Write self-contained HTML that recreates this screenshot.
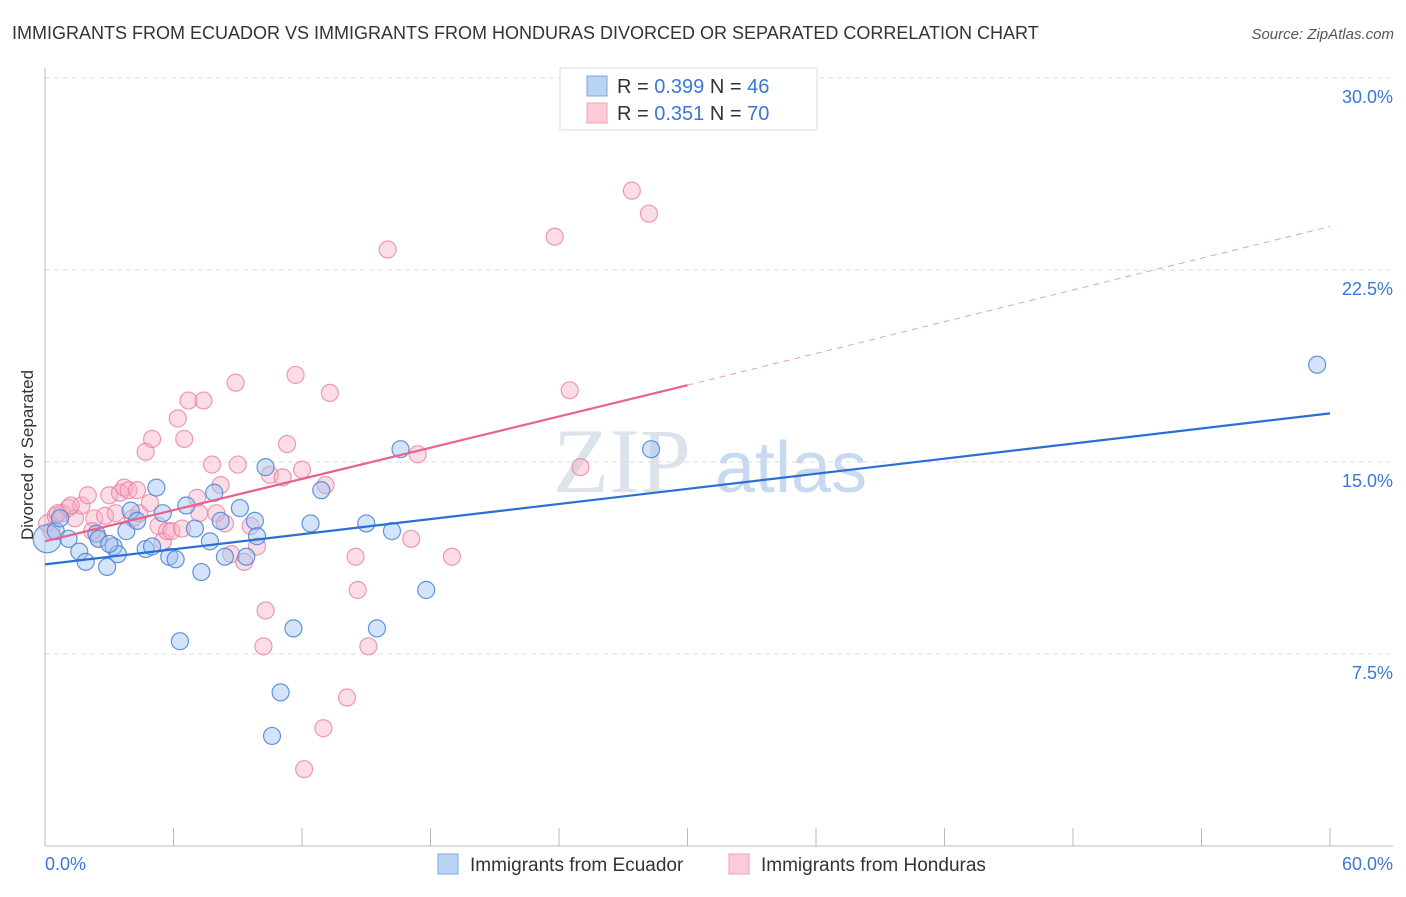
<!DOCTYPE html>
<html><head><meta charset="utf-8"><style>
body{margin:0;background:#fff;font-family:"Liberation Sans",sans-serif;}
</style></head><body>
<svg id="chart" width="1406" height="892" xmlns="http://www.w3.org/2000/svg" font-family="Liberation Sans, sans-serif">
<text x="12" y="39" font-size="18" fill="#333">IMMIGRANTS FROM ECUADOR VS IMMIGRANTS FROM HONDURAS DIVORCED OR SEPARATED CORRELATION CHART</text>
<text x="1394" y="39" font-size="15" fill="#555" font-style="italic" text-anchor="end">Source: ZipAtlas.com</text>
<text x="553" y="492" font-size="92" fill="#dde3ea" font-family="Liberation Serif, serif">ZIP</text>
<text x="715" y="492" font-size="72" fill="#c8daf0">atlas</text>
<g id="grid"></g><g id="axes"></g><g id="pts"></g><g id="lines"></g>
<text transform="translate(33,455) rotate(-90)" font-size="17" fill="#333" text-anchor="middle">Divorced or Separated</text>
<g>
<rect x="560" y="68" width="257" height="62" fill="#fff" stroke="#ddd"/>
<rect x="587" y="76" width="20" height="20" fill="#b9d3f5" stroke="#7aa6e0"/>
<rect x="587" y="103" width="20" height="20" fill="#fbcbd8" stroke="#f0a0b8"/>
<text x="617" y="93" font-size="20" fill="#333">R = <tspan fill="#3a78d4">0.399</tspan>   N = <tspan fill="#3a78d4">46</tspan></text>
<text x="617" y="120" font-size="20" fill="#333">R =  <tspan fill="#3a78d4">0.351</tspan>   N = <tspan fill="#3a78d4">70</tspan></text>
</g>
<g>
<rect x="438" y="854" width="20" height="20" fill="#b9d3f5" stroke="#7aa6e0"/>
<text x="470" y="871" font-size="19" fill="#333">Immigrants from Ecuador</text>
<rect x="729" y="854" width="20" height="20" fill="#fbcbd8" stroke="#f0a0b8"/>
<text x="761" y="871" font-size="19" fill="#333">Immigrants from Honduras</text>
</g>
</svg>
<script>
const yTicks=[7.5,15,22.5,30];
const yTickLabels=["7.5%","15.0%","22.5%","30.0%"];
const xTickLabels=["0.0%","60.0%"];
const ecuadorX=[0.1,0.5,1.1,1.6,1.9,2.4,2.5,2.9,3.2,3.4,3.8,4.0,4.3,4.7,5.0,5.2,5.5,5.8,6.1,6.3,6.6,7.0,7.3,7.7,7.9,8.2,8.4,9.1,9.4,9.8,9.9,10.3,11.0,10.6,11.6,12.4,12.9,15.0,15.5,16.2,16.6,17.8,28.3,59.4,0.7,3.0];
const ecuadorY=[12.0,12.3,12.0,11.5,11.1,12.2,12.0,10.9,11.7,11.4,12.3,13.1,12.7,11.6,11.7,14.0,13.0,11.3,11.2,8.0,13.3,12.4,10.7,11.9,13.8,12.7,11.3,13.2,11.3,12.7,12.1,14.8,6.0,4.3,8.5,12.6,13.9,12.6,8.5,12.3,15.5,10.0,15.5,18.8,12.8,11.8];
const hondurasX=[0.1,0.3,0.5,0.8,1.1,1.4,1.7,2.0,2.3,2.5,2.8,3.0,3.3,3.5,3.7,3.9,4.1,4.3,4.4,4.7,5.0,5.3,5.5,5.7,5.9,6.2,6.4,6.5,6.7,7.1,7.2,7.4,7.8,8.0,8.2,8.4,8.7,8.9,9.0,9.3,9.6,9.9,10.2,10.3,10.5,11.1,11.3,11.7,12.0,12.1,13.0,13.1,13.3,14.1,14.5,14.6,15.1,16.0,17.1,17.4,19.0,23.8,24.5,25.0,27.4,28.2,0.6,1.2,2.2,4.9];
const hondurasY=[12.6,12.3,12.9,13.0,13.2,12.8,13.3,13.7,12.8,12.0,12.9,13.7,13.0,13.8,14.0,13.9,12.8,13.9,13.0,15.4,15.9,12.5,11.9,12.3,12.3,16.7,12.4,15.9,17.4,13.6,13.0,17.4,14.9,13.0,14.1,12.6,11.4,18.1,14.9,11.1,12.5,11.7,7.8,9.2,14.5,14.4,15.7,18.4,14.7,3.0,4.6,14.1,17.7,5.8,11.3,10.0,7.8,23.3,12.0,15.3,11.3,23.8,17.8,14.8,25.6,24.7,13.0,13.3,12.3,13.4];
const ecuadorLine=[0,11.0,60,16.9];
const hondurasLine=[0,11.9,30,18.0,60,24.2];
const ns="http://www.w3.org/2000/svg";
const X=v=>45+v/60*1285, Y=v=>846-v/7.5*192;
function mk(t,a,p){const e=document.createElementNS(ns,t);for(const k in a)e.setAttribute(k,a[k]);document.getElementById(p).appendChild(e);return e;}
yTicks.forEach((t,i)=>{
 const g=mk('line',{x1:45,x2:1393,y1:Y(t),y2:Y(t),stroke:'#ddd','stroke-dasharray':'5,4'},'grid');
 
 
 const l=mk('text',{x:1393,y:Y(t)+25,'font-size':18,fill:'#3a78d4','text-anchor':'end'},'axes');
 l.textContent=yTickLabels[i];
 
 
});
let ax=mk('line',{x1:45,x2:45,y1:68,y2:846,stroke:'#bbb'},'axes');


ax=mk('line',{x1:45,x2:1393,y1:846,y2:846,stroke:'#bbb'},'axes');


for(let i=0;i<=10;i++){const xx=X(i*6);const t=mk('line',{x1:xx,x2:xx,y1:828,y2:846,stroke:'#bbb'},'axes');
 
 }
[[0,'start',45],[1,'end',1393]].forEach(([i,a,x])=>{const t=mk('text',{x:x,y:870,'font-size':18,fill:'#3a78d4','text-anchor':a},'axes');t.textContent=xTickLabels[i];
 
 });
hondurasX.forEach((v,i)=>{const c=mk('circle',{cx:X(v),cy:Y(hondurasY[i]),r:8.5,fill:'rgba(247,170,195,0.4)',stroke:'rgba(232,130,160,0.8)','stroke-width':1.2},'pts');
 
 });
ecuadorX.forEach((v,i)=>{const c=mk('circle',{cx:X(v),cy:Y(ecuadorY[i]),r:i==0?14:8.5,fill:'rgba(160,195,240,0.45)',stroke:'rgba(70,130,215,0.85)','stroke-width':1.2},'pts');
 
 });
let l=mk('line',{x1:X(ecuadorLine[0]),y1:Y(ecuadorLine[1]),x2:X(ecuadorLine[2]),y2:Y(ecuadorLine[3]),stroke:'#2a6fd6','stroke-width':2.2},'lines');


l=mk('line',{x1:X(hondurasLine[0]),y1:Y(hondurasLine[1]),x2:X(hondurasLine[2]),y2:Y(hondurasLine[3]),stroke:'#e8628a','stroke-width':2.2},'lines');


l=mk('line',{x1:X(hondurasLine[2]),y1:Y(hondurasLine[3]),x2:X(hondurasLine[4]),y2:Y(hondurasLine[5]),stroke:'#e8a0b6','stroke-width':1,'stroke-dasharray':'6,5'},'lines');


</script>
</body></html>
